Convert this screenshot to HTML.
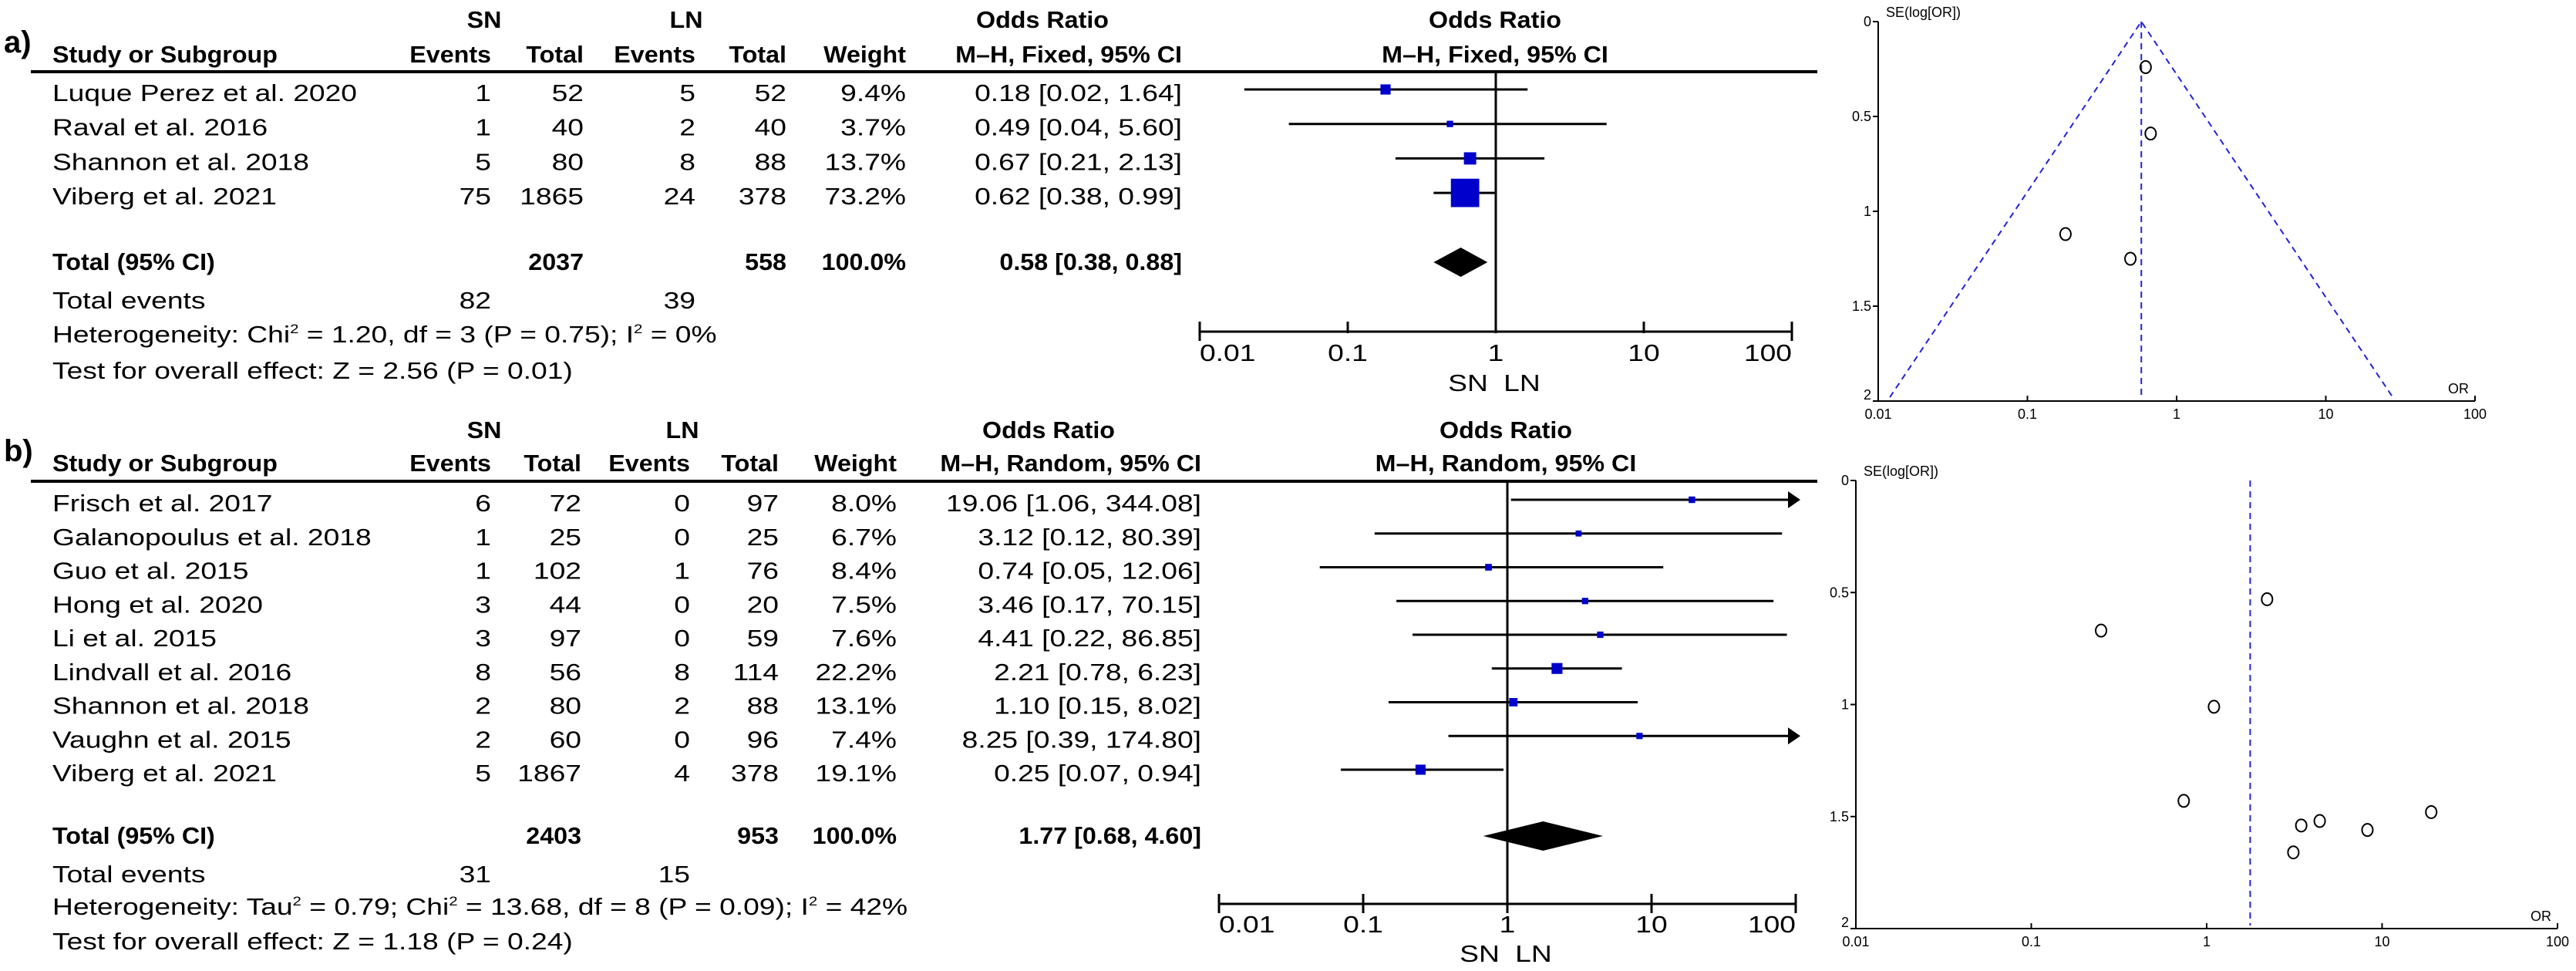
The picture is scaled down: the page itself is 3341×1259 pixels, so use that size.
<!DOCTYPE html>
<html><head><meta charset="utf-8">
<style>
html,body{margin:0;padding:0;background:#fff;}
svg{display:block;font-family:"Liberation Sans",sans-serif;}
</style></head>
<body>
<svg id="fig" xmlns="http://www.w3.org/2000/svg" width="3341" height="1259" viewBox="0 0 3341 1259">
<rect width="3341" height="1259" fill="#fff"/>
</svg>
<script>
// ---------- Panel a data ----------
const aStudies=['Luque Perez et al. 2020','Raval et al. 2016','Shannon et al. 2018','Viberg et al. 2021'];
const aSnEvents=[1,1,5,75];
const aSnTotal=[52,40,80,1865];
const aLnEvents=[5,2,8,24];
const aLnTotal=[52,40,88,378];
const aWeight=[9.4,3.7,13.7,73.2];
const aOR=[0.18,0.49,0.67,0.62];
const aLo=[0.02,0.04,0.21,0.38];
const aHi=[1.64,5.60,2.13,0.99];
const aSE=[1.12,1.25,0.59,0.24];
const aPooled=[0.58,0.38,0.88];
const aTotals=[2037,558,82,39];
// ---------- Panel b data ----------
const bStudies=['Frisch et al. 2017','Galanopoulus et al. 2018','Guo et al. 2015','Hong et al. 2020','Li et al. 2015','Lindvall et al. 2016','Shannon et al. 2018','Vaughn et al. 2015','Viberg et al. 2021'];
const bSnEvents=[6,1,1,3,3,8,2,2,5];
const bSnTotal=[72,25,102,44,97,56,80,60,1867];
const bLnEvents=[0,0,1,0,0,8,2,0,4];
const bLnTotal=[97,25,76,20,59,114,88,96,378];
const bWeight=[8.0,6.7,8.4,7.5,7.6,22.2,13.1,7.4,19.1];
const bOR=[19.06,3.12,0.74,3.46,4.41,2.21,1.10,8.25,0.25];
const bLo=[1.06,0.12,0.05,0.17,0.22,0.78,0.15,0.39,0.07];
const bHi=[344.08,80.39,12.06,70.15,86.85,6.23,8.02,174.80,0.94];
const bSE=[1.48,1.66,1.43,1.54,1.52,0.53,1.01,1.56,0.67];
const bPooled=[1.77,0.68,4.60];
const bTotals=[2403,953,31,15];
const axisTicks=[0.01,0.1,1,10,100];
const axisTickLabels=['0.01','0.1','1','10','100'];
const seTicks=[0,0.5,1,1.5,2];
const seTickLabels=['0','0.5','1','1.5','2'];

const NS='http://www.w3.org/2000/svg';
const svg=document.getElementById('fig');
function el(tag,attrs,parent){const e=document.createElementNS(NS,tag);for(const k in attrs)e.setAttribute(k,attrs[k]);(parent||svg).appendChild(e);return e;}
function widen(t,f){const L=t.getComputedTextLength();if(L>0){t.setAttribute('textLength',(L*f).toFixed(1));t.setAttribute('lengthAdjust','spacingAndGlyphs');}}
function txt(x,y,s,anchor,size,weight,parent){const t=el('text',{x:x,y:y,'text-anchor':anchor||'start','font-size':size||31,'font-weight':weight||'normal',fill:'#000'},parent);t.textContent=s;if((size||31)>=30&&(size||31)<40)widen(t,weight==='bold'?1.04:1.2);return t;}
function f2(v){return v.toFixed(2);}

function panel(cfg){
  const g=el('g',{});
  
  
  const C=cfg.cols;
  const FS=31;
  let t=txt(5,cfg.labelY,cfg.id+')','start',40,'bold',g);
  
  
  t=txt(628,cfg.h1,'SN','middle',FS,'bold',g);
  
  
  t=txt(cfg.lnHead,cfg.h1,'LN','middle',FS,'bold',g);
  
  
  t=txt(cfg.orHead,cfg.h1,'Odds Ratio','middle',FS,'bold',g);
  
  
  t=txt(cfg.plotCenter,cfg.h1,'Odds Ratio','middle',FS,'bold',g);
  
  
  const h2=[['Study or Subgroup',C[0],'start'],['Events',C[1],'end'],['Total',C[2],'end'],['Events',C[3],'end'],['Total',C[4],'end'],['Weight',C[5],'end'],[cfg.method,C[6],'end']];
  h2.forEach(h=>{const e=txt(h[1],cfg.h2,h[0],h[2],FS,'bold',g);
    
    });
  t=txt(cfg.plotCenter,cfg.h2,cfg.method,'middle',FS,'bold',g);
  
  
  let ln=el('line',{x1:40,x2:2357,y1:cfg.hline,y2:cfg.hline,stroke:'#000','stroke-width':4},g);
  
  
  const X=v=>cfg.x0+(Math.log10(v)+2)*cfg.dec;
  const xMax=X(100);
  cfg.studies.forEach((s,i)=>{
    const y=cfg.r0+i*cfg.rs;
    const row=el('g',{},g);
    
    
    txt(C[0],y,s,'start',FS,'normal',row);
    txt(C[1],y,String(cfg.snE[i]),'end',FS,'normal',row);
    txt(C[2],y,String(cfg.snT[i]),'end',FS,'normal',row);
    txt(C[3],y,String(cfg.lnE[i]),'end',FS,'normal',row);
    txt(C[4],y,String(cfg.lnT[i]),'end',FS,'normal',row);
    txt(C[5],y,cfg.w[i].toFixed(1)+'%','end',FS,'normal',row);
    txt(C[6],y,f2(cfg.or[i])+' ['+f2(cfg.lo[i])+', '+f2(cfg.hi[i])+']','end',FS,'normal',row);
    const yc=y-15;
    const hiX=Math.min(X(cfg.hi[i]),xMax);
    const ci=el('line',{x1:X(cfg.lo[i]),x2:hiX,y1:yc,y2:yc,stroke:'#000','stroke-width':3},g);
    
    
    if(cfg.hi[i]>100){
      const ar=el('polygon',{points:(xMax+6)+','+yc+' '+(xMax-10)+','+(yc-11)+' '+(xMax-10)+','+(yc+11),fill:'#000'},g);
      
      
    }
    const sz=cfg.k*Math.sqrt(cfg.w[i]);
    const sq=el('rect',{x:X(cfg.or[i])-sz/2,y:yc-sz/2,width:sz,height:sz,fill:'#0000cc'},g);
    
    
  });
  const tr=el('g',{},g);
  
  
  txt(C[0],cfg.tot,'Total (95% CI)','start',FS,'bold',tr);
  txt(C[2],cfg.tot,String(cfg.totals[0]),'end',FS,'bold',tr);
  txt(C[4],cfg.tot,String(cfg.totals[1]),'end',FS,'bold',tr);
  txt(C[5],cfg.tot,'100.0%','end',FS,'bold',tr);
  txt(C[6],cfg.tot,f2(cfg.pooled[0])+' ['+f2(cfg.pooled[1])+', '+f2(cfg.pooled[2])+']','end',FS,'bold',tr);
  const dy=cfg.tot-10;
  const dm=el('polygon',{points:X(cfg.pooled[1])+','+dy+' '+X(cfg.pooled[0])+','+(dy-19)+' '+X(cfg.pooled[2])+','+dy+' '+X(cfg.pooled[0])+','+(dy+19),fill:'#000'},g);
  
  
  t=txt(C[0],cfg.ev,'Total events','start',FS,'normal',g);
  
  
  txt(C[1],cfg.ev,String(cfg.totals[2]),'end',FS,'normal',g);
  txt(C[3],cfg.ev,String(cfg.totals[3]),'end',FS,'normal',g);
  const het=el('text',{x:C[0],y:cfg.het,'font-size':FS,fill:'#000'},g);
  
  
  het.innerHTML=cfg.hetHTML;
  widen(het,1.2);
  t=txt(C[0],cfg.test,cfg.testText,'start',FS,'normal',g);
  
  
  ln=el('line',{x1:X(1),x2:X(1),y1:cfg.hline,y2:cfg.axisY,stroke:'#000','stroke-width':3},g);
  
  
  ln=el('line',{x1:X(0.01),x2:xMax,y1:cfg.axisY,y2:cfg.axisY,stroke:'#000','stroke-width':3},g);
  
  
  axisTicks.forEach((v,i)=>{
    const end=(i===0||i===axisTicks.length-1);
    const tk=el('line',{x1:X(v),x2:X(v),y1:cfg.axisY-13,y2:cfg.axisY+(end?12:cfg.tickDown),stroke:'#000','stroke-width':3},g);
    
    
    const anc=i===0?'start':(i===axisTicks.length-1?'end':'middle');
    const lb=txt(X(v),cfg.tickLab,axisTickLabels[i],anc,FS,'normal',g);
    
    
  });
  t=txt(X(1)-36,cfg.snln,'SN','middle',FS,'normal',g);
  
  
  t=txt(X(1)+34,cfg.snln,'LN','middle',FS,'normal',g);
  
  
}

panel({id:'a',labelY:68,h1:36,h2:81,hline:93,lnHead:890,orHead:1352,plotCenter:1939,
  method:'M\u2013H, Fixed, 95% CI',cols:[68,637,757,902,1020,1175,1533],
  studies:aStudies,snE:aSnEvents,snT:aSnTotal,lnE:aLnEvents,lnT:aLnTotal,w:aWeight,or:aOR,lo:aLo,hi:aHi,
  pooled:aPooled,totals:aTotals,r0:131,rs:44.7,tot:350,ev:400,het:444,test:491,k:4.3,
  hetHTML:'Heterogeneity: Chi<tspan font-size="17" dy="-12">2</tspan><tspan dy="12"> = 1.20, df = 3 (P = 0.75); I</tspan><tspan font-size="17" dy="-12">2</tspan><tspan dy="12"> = 0%</tspan>',
  testText:'Test for overall effect: Z = 2.56 (P = 0.01)',
  x0:1556,dec:192,axisY:430,tickDown:2,tickLab:468,snln:507});

panel({id:'b',labelY:598,h1:568,h2:611,hline:624,lnHead:885,orHead:1360,plotCenter:1953,
  method:'M\u2013H, Random, 95% CI',cols:[68,637,754,895,1010,1163,1558],
  studies:bStudies,snE:bSnEvents,snT:bSnTotal,lnE:bLnEvents,lnT:bLnTotal,w:bWeight,or:bOR,lo:bLo,hi:bHi,
  pooled:bPooled,totals:bTotals,r0:663,rs:43.75,tot:1094,ev:1144,het:1186,test:1231,k:3.0,
  hetHTML:'Heterogeneity: Tau<tspan font-size="17" dy="-12">2</tspan><tspan dy="12"> = 0.79; Chi</tspan><tspan font-size="17" dy="-12">2</tspan><tspan dy="12"> = 13.68, df = 8 (P = 0.09); I</tspan><tspan font-size="17" dy="-12">2</tspan><tspan dy="12"> = 42%</tspan>',
  testText:'Test for overall effect: Z = 1.18 (P = 0.24)',
  x0:1581,dec:187,axisY:1172,tickDown:12,tickLab:1209,snln:1247});

function funnel(cfg){
  const g=el('g',{});
  
  
  const X=v=>cfg.x0+(Math.log10(v)+2)*cfg.dec;
  const Y=s=>cfg.y0+s*cfg.unit;
  const yB=Y(2);
  let ln=el('line',{x1:cfg.x0,x2:cfg.x0,y1:cfg.y0,y2:yB,stroke:'#000','stroke-width':2},g);
  
  
  ln=el('line',{x1:cfg.x0,x2:X(100),y1:yB,y2:yB,stroke:'#000','stroke-width':2},g);
  
  
  seTicks.forEach((s,i)=>{
    const tk=el('line',{x1:cfg.x0-7,x2:cfg.x0,y1:Y(s),y2:Y(s),stroke:'#000','stroke-width':2},g);
    
    
    const lb=txt(cfg.x0-9,Y(s)+(i===4?-2:6),seTickLabels[i],'end',18,'normal',g);
    
    
  });
  axisTicks.forEach((v,i)=>{
    const tk=el('line',{x1:X(v),x2:X(v),y1:yB-7,y2:yB,stroke:'#000','stroke-width':2},g);
    
    
    const lb=txt(X(v),yB+23,axisTickLabels[i],'middle',18,'normal',g);
    
    
  });
  let t=txt(cfg.x0+10,cfg.y0-6,'SE(log[OR])','start',18,'normal',g);
  
  
  t=txt(X(100)-8,yB-10,'OR','end',18,'normal',g);
  
  
  const p=cfg.pooled;
  const dash={stroke:'#2222dd','stroke-width':2,'stroke-dasharray':'8,6',fill:'none'};
  ln=el('line',Object.assign({x1:X(p),x2:X(p),y1:cfg.y0,y2:yB-4},dash),g);
  
  
  if(cfg.cone){
    const pl=el('polyline',Object.assign({points:X(p*Math.exp(-1.96*1.98))+','+Y(1.98)+' '+X(p)+','+cfg.y0+' '+X(p*Math.exp(1.96*1.98))+','+Y(1.98)},dash),g);
    
    
  }
  cfg.or.forEach((v,i)=>{
    const c=el('ellipse',{cx:X(v),cy:Y(cfg.se[i]),rx:7,ry:8,fill:'none',stroke:'#000','stroke-width':2},g);
    
    
  });
}
funnel({id:'a',x0:2436,dec:193.5,y0:28,unit:246,pooled:aPooled[0],or:aOR,se:aSE,cone:true});
funnel({id:'b',x0:2407,dec:227.5,y0:623,unit:290.5,pooled:bPooled[0],or:bOR,se:bSE,cone:false});
</script>
</body></html>
